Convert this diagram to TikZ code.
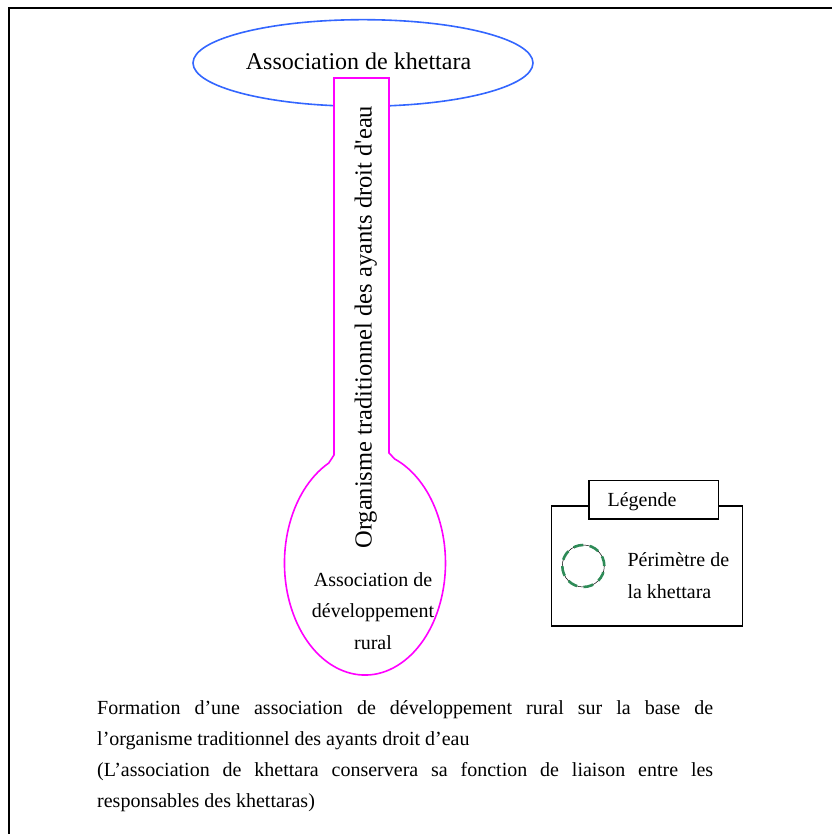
\documentclass[tikz,border=0pt]{standalone}
\usepackage{fontspec}
\setmainfont{Liberation Serif}
\newfontfamily\plainserif{Liberation Serif}[Ligatures=ResetAll]
\usetikzlibrary{shapes.geometric}
\definecolor{assocblue}{RGB}{51,102,255}
\definecolor{spoonpink}{RGB}{255,0,255}
\definecolor{perimgreen}{RGB}{46,139,87}
\begin{document}
\begin{tikzpicture}[x=1pt,y=1pt,
  lbl/.style={inner sep=0pt, font=\fontsize{20}{31}\selectfont},
  biglbl/.style={inner sep=0pt, font=\fontsize{24}{28}\selectfont},
  framebox/.style={draw=black, line width=1.2pt, inner sep=0pt},
  capline/.style={inner sep=0pt, anchor=base west, font=\fontsize{20}{31}\selectfont}]
\useasboundingbox (0,0) rectangle (832,834);

% page frame (only top and left edges fall inside the sheet)
\draw[line width=2pt] (9,0) -- (9,825.7) -- (832,825.7);

% association of the khettara
\node[draw=assocblue, line width=1.6pt, ellipse, inner sep=0pt,
      minimum width=340, minimum height=86.6] (khet) at (363,771) {};

% spoon shape: traditional body on top of the rural development association
\draw[spoonpink, line width=1.6pt, fill=white]
  (334,756) -- (334,379) -- (328.8,371)
  arc[start angle=116.7, end angle=428.3, x radius=80.5, y radius=112]
  -- (389,381) -- (389,756) -- cycle;

\node[biglbl, anchor=base] (khettxt) at (358.5,764.7) {Association de khettara};
\node[inner sep=0pt, anchor=base, rotate=90, font=\plainserif\fontsize{24.5}{28}\selectfont]
  (org) at (371.5,506.8) {Organisme traditionnel des ayants droit d'eau};

\node[lbl, anchor=base] (adr1) at (373,247) {Association de};
\node[lbl, anchor=base] (adr2) at (373,216) {développement};
\node[lbl, anchor=base] (adr3) at (373,184) {rural};

% legend
\node[framebox, minimum width=190.6, minimum height=120] (legbox) at (647,268) {};
\node[framebox, fill=white, minimum width=129.3, minimum height=38.3] (legtab) at (653.7,334.2) {};
\node[lbl, anchor=base] (legtitle) at (642,327.3) {Légende};
\node[circle, draw=black, line width=0.5pt, minimum size=42, inner sep=0pt] (perim) at (583.3,268) {};
\draw[perimgreen, line width=2.6pt, dash pattern=on 10pt off 6.5pt] (perim.center) circle[radius=21];
\node[lbl, anchor=base west] (leg1) at (627.3,267.3) {Périmètre de};
\node[lbl, anchor=base west] (leg2) at (627.3,235.7) {la khettara};

% caption
\node[capline] (cap1) at (97,119) {\makebox[616pt][s]{Formation d’une association de développement rural sur la base de}};
\node[capline] (cap2) at (97,88) {l’organisme traditionnel des ayants droit d’eau};
\node[capline] (cap3) at (97,57) {\makebox[616pt][s]{(L’association de khettara conservera sa fonction de liaison entre les}};
\node[capline] (cap4) at (97,26) {responsables des khettaras)};
\end{tikzpicture}
\end{document}
